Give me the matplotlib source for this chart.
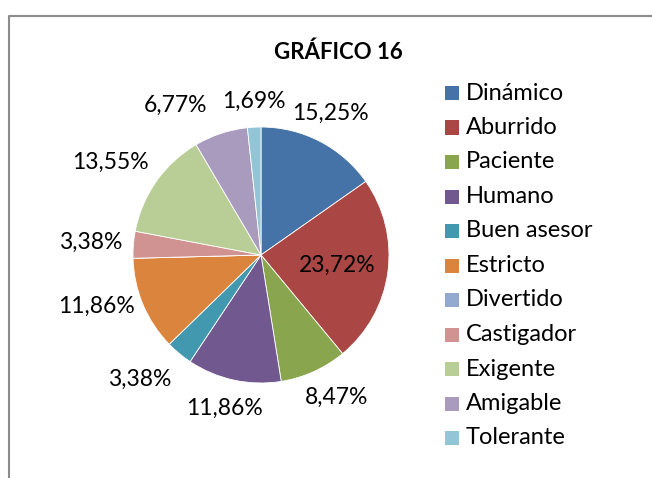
import numpy as np
import matplotlib.pyplot as plt
from matplotlib.patches import Rectangle
from matplotlib.lines import Line2D

# Données
categorias = ["Dinámico", "Aburrido", "Paciente", "Humano", "Buen asesor",
              "Estricto", "Divertido", "Castigador", "Exigente", "Amigable",
              "Tolerante"]
porcentajes = [15.25, 23.72, 8.47, 11.86, 3.38, 11.86, 0.0, 3.38, 13.55, 6.77, 1.69]
colores = ["#4572A7", "#AA4643", "#89A54E", "#71588F", "#4198AF", "#DB843D",
           "#93A9CF", "#D19392", "#B9CD96", "#A99BBD", "#92C5D6"]

# placement des étiquettes (rayon relatif, décalage angulaire en degrés)
lab_r = [1.23, 0.60, 1.26, 1.23, 1.36, 1.35, 0, 1.33, 1.38, 1.35, 1.20]
lab_da = [1.5, 0, 3.5, -1, -4.5, -5.5, 0, 0.5, 3.5, 11.5, -0.5]

plt.rcParams['font.family'] = ['Lato', 'DejaVu Sans']

W, H = 652, 478
cx, cy, R = 261, 255, 128
fig = plt.figure(figsize=(W / 100, H / 100), dpi=100)
ax = fig.add_axes([0, 0, 1, 1])

wedges, _ = ax.pie(porcentajes, colors=colores, startangle=90, counterclock=False,
                   radius=1, center=(0, 0), frame=True,
                   wedgeprops=dict(edgecolor='white', linewidth=0.6))
ax.set_xlim(-cx / R, (W - cx) / R)
ax.set_ylim((cy - H) / R, cy / R)
ax.set_aspect('auto')
ax.axis('off')

for w, v, r, da in zip(wedges, porcentajes, lab_r, lab_da):
    if v == 0:
        continue
    ang = np.deg2rad((w.theta1 + w.theta2) / 2 + da)
    txt = f"{v:.2f}".replace('.', ',') + '%'
    ax.text(r * np.cos(ang), r * np.sin(ang), txt, ha='center', va='center',
            fontsize=16.5, color='black')

# Titre
fig.text(338 / W, 1 - 52 / H, "GRÁFICO 16", ha='center', va='center',
         fontsize=16, fontweight='bold')

# Légende
for i, (cat, col) in enumerate(zip(categorias, colores)):
    yc = 93 + i * 34.5
    fig.patches.append(Rectangle((445 / W, 1 - (yc + 7) / H), 14 / W, 14 / H,
                                 transform=fig.transFigure, facecolor=col,
                                 edgecolor='none'))
    fig.text(466 / W, 1 - yc / H, cat, ha='left', va='center', fontsize=17)

# Cadre
fig.lines.append(Line2D([8.5 / W, 8.5 / W, 1], [0, 1 - 15.5 / H, 1 - 15.5 / H],
                        transform=fig.transFigure, color='#8c8c8c', linewidth=1.5))

plt.savefig('out.png', dpi=100)
